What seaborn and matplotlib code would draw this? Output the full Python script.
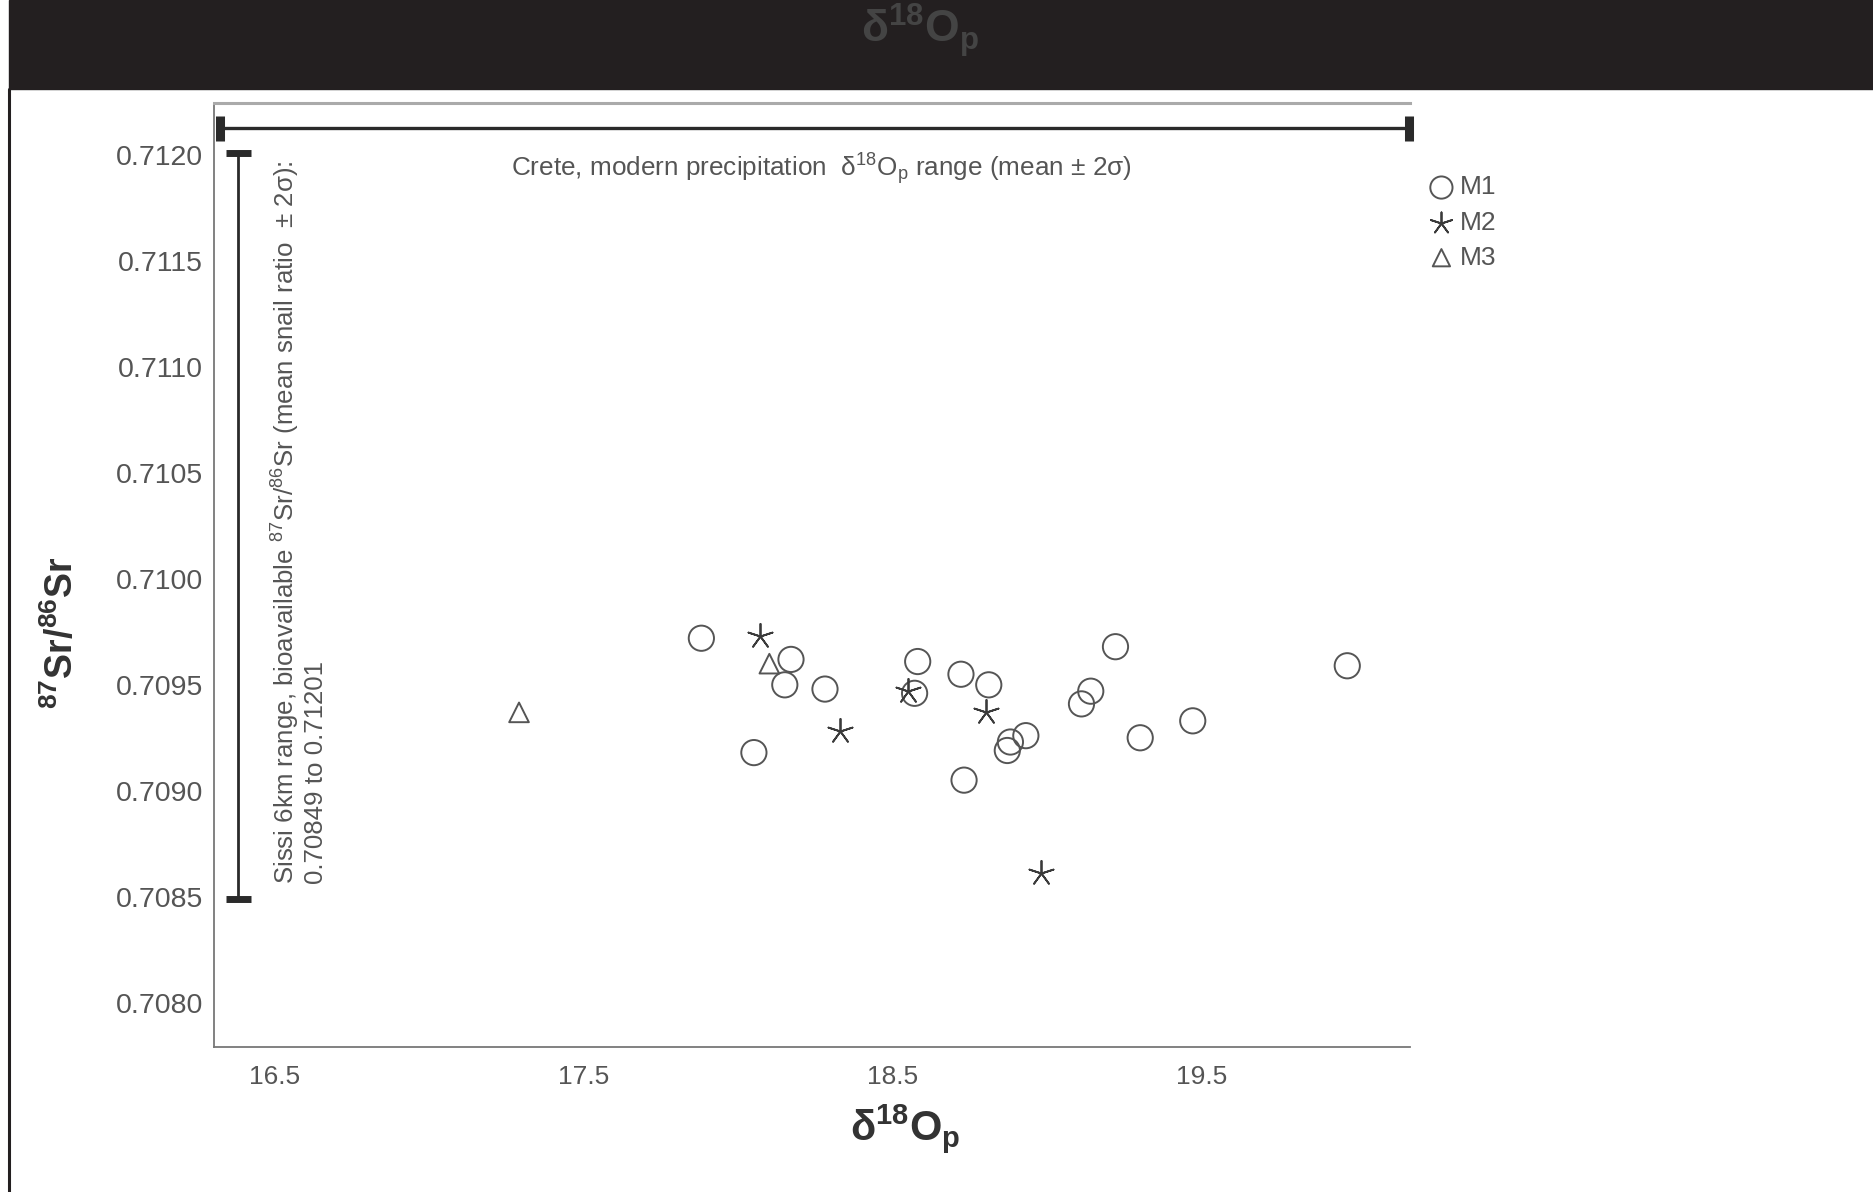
import matplotlib
matplotlib.use("Agg")
import matplotlib.pyplot as plt
from matplotlib.lines import Line2D
from matplotlib.patches import Rectangle
import seaborn as sns
import pandas as pd

# d18O_p (x) and 87Sr/86Sr (y) for each group
m1_d18o = [17.88, 18.17, 18.15, 18.28, 18.05, 18.58, 18.57, 18.72, 18.81, 18.93,
           18.88, 18.87, 18.73, 19.22, 19.14, 19.11, 19.30, 19.47, 19.97]
m1_sr = [0.70972, 0.70962, 0.70950, 0.70948, 0.70918, 0.70961, 0.70946, 0.70955, 0.70950, 0.70926,
         0.70923, 0.70919, 0.70905, 0.70968, 0.70947, 0.70941, 0.70925, 0.70933, 0.70959]
m2_d18o = [18.07, 18.33, 18.55, 18.80, 18.98]
m2_sr = [0.70973, 0.70928, 0.70947, 0.70937, 0.70861]
m3_d18o = [17.29, 18.10]
m3_sr = [0.70937, 0.70960]

# reference ranges
crete_mean = 18.246
crete_2sd = 1.924
crete_y = 0.712127
sissi_low = 0.70849
sissi_high = 0.71201
sissi_x = 16.38

x_ticks = [16.5, 17.5, 18.5, 19.5]
y_ticks = [0.7080, 0.7085, 0.7090, 0.7095, 0.7100, 0.7105, 0.7110, 0.7115, 0.7120]

df = pd.concat([
    pd.DataFrame({"d18o": m1_d18o, "sr": m1_sr, "group": "M1"}),
    pd.DataFrame({"d18o": m2_d18o, "sr": m2_sr, "group": "M2"}),
    pd.DataFrame({"d18o": m3_d18o, "sr": m3_sr, "group": "M3"}),
])

sns.set_theme(style="white")
plt.rcParams["font.family"] = ["Liberation Sans", "DejaVu Sans"]
plt.rcParams["mathtext.fontset"] = "custom"
plt.rcParams["mathtext.rm"] = "Liberation Sans"
plt.rcParams["mathtext.it"] = "Liberation Sans:italic"
plt.rcParams["mathtext.bf"] = "Liberation Sans:bold"
plt.rcParams["mathtext.default"] = "regular"

grey = "#555555"
dark = "#2a2a2a"

fig = plt.figure(figsize=(18.74, 11.92), dpi=100)
ax = fig.add_axes([214 / 1874, 1 - 1046.8 / 1192, 1196 / 1874, 944 / 1192])

styles = {"M1": dict(marker="o", s=330, facecolor="none", edgecolor=grey, linewidth=1.4),
          "M2": dict(marker=(5, 2, 0), s=330, color="#3a3a3a", linewidth=1.3),
          "M3": dict(marker="^", s=200, facecolor="none", edgecolor=grey, linewidth=1.4)}
for name, sub in df.groupby("group"):
    sns.scatterplot(data=sub, x="d18o", y="sr", ax=ax, label=name, legend=False,
                    zorder=3, **styles[name])

# Crete precipitation range (horizontal) and Sissi range (vertical)
eb1 = ax.errorbar(crete_mean, crete_y, xerr=crete_2sd, fmt="none", ecolor=dark,
                  elinewidth=2.4, capsize=9, capthick=6.5)
eb2 = ax.errorbar(sissi_x, (sissi_low + sissi_high) / 2, yerr=(sissi_high - sissi_low) / 2,
                  fmt="none", ecolor=dark, elinewidth=2.0, capsize=9, capthick=5)
for eb in (eb1, eb2):
    for art in eb.lines[1] + eb.lines[2]:
        art.set_clip_on(False)

ax.text(18.27, 0.711935, "Crete, modern precipitation  δ$^{18}$O$_p$ range (mean ± 2σ)",
        ha="center", va="center", fontsize=18.8, color=grey)
ax.text(16.484, 0.70856,
        "Sissi 6km range, bioavailable $^{87}$Sr/$^{86}$Sr (mean snail ratio  ± 2σ):\n0.70849 to 0.71201",
        rotation=90, ha="left", va="bottom", fontsize=18.6, color=grey, linespacing=1.1)

ax.set_xlim(16.303, 20.173)
ax.set_ylim(0.707791, 0.712248)
ax.set_xticks(x_ticks)
ax.set_xticklabels([f"{v:.1f}" for v in x_ticks])
ax.set_yticks(y_ticks)
ax.set_yticklabels([f"{v:.4f}" for v in y_ticks])
ax.tick_params(axis="x", length=0, pad=13, labelsize=19, labelcolor=grey)
ax.tick_params(axis="y", length=0, pad=8, labelsize=20.5, labelcolor=grey)

ax.set_xlabel(r"$\mathbf{δ^{18}O_p}$", fontsize=30, color="#333333")
ax.xaxis.set_label_coords(0.578, -0.058)
ax.set_ylabel(r"$\mathbf{{}^{87}Sr/^{86}Sr}$", fontsize=27, color="#333333")
ax.yaxis.label.set_va("center")
ax.yaxis.set_label_coords(-0.127, 0.438)

for side in ["left", "bottom"]:
    ax.spines[side].set_color("#777777")
    ax.spines[side].set_linewidth(1.3)
ax.spines["top"].set_color("#aaaaaa")
ax.spines["top"].set_linewidth(2.2)
ax.spines["right"].set_visible(False)

ax.legend(loc="upper left", bbox_to_anchor=(1.002, 0.937), frameon=False, fontsize=19,
          handletextpad=0.1, labelspacing=0.42, borderpad=0, handlelength=1.2,
          markerscale=0.88, labelcolor=grey)

# dark banner at the top and frame line on the left
fig.add_artist(Rectangle((9 / 1874, 1 - 89 / 1192), 1, 89 / 1192,
                         transform=fig.transFigure, color="#231f20", zorder=0))
fig.text(920 / 1874, 1 - 30 / 1192, r"$\mathbf{δ^{18}O_p}$", ha="center", va="center",
         fontsize=32, color="#444444")
fig.add_artist(Line2D([9 / 1874, 9 / 1874], [0, 1 - 89 / 1192], transform=fig.transFigure,
                      color="#231f20", linewidth=2.2))

fig.savefig("out.png", dpi=100)
